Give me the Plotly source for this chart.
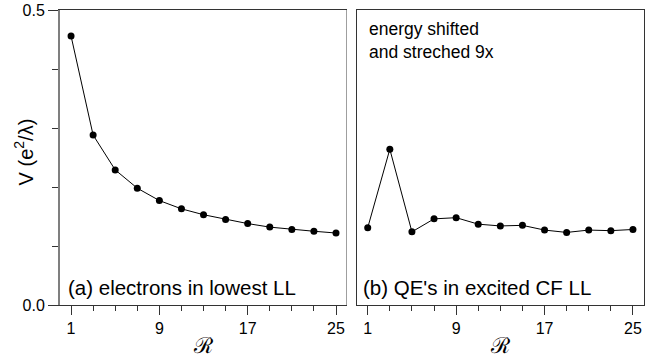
import plotly.graph_objects as go

# Pair-pseudopotential data versus relative angular momentum R
R = [1, 3, 5, 7, 9, 11, 13, 15, 17, 19, 21, 23, 25]
v_lowest_ll = [0.456, 0.288, 0.229, 0.198, 0.177, 0.163, 0.153, 0.145, 0.138,
               0.132, 0.128, 0.125, 0.122]
v_excited_cf = [0.131, 0.264, 0.124, 0.146, 0.148, 0.137, 0.134, 0.135, 0.127,
                0.123, 0.127, 0.126, 0.128]

x_ticks = [1, 9, 17, 25]
y_ticks = [0.0, 0.5]
y_ticklabels = ["0.0", "0.5"]

FONT = "Liberation Sans, Arial, sans-serif"

fig = go.Figure()

marker = dict(color="black", size=7)
line = dict(color="black", width=1)

fig.add_trace(go.Scatter(x=R, y=v_lowest_ll, mode="lines+markers",
                         marker=marker, line=line, xaxis="x", yaxis="y",
                         showlegend=False))
fig.add_trace(go.Scatter(x=R, y=v_excited_cf, mode="lines+markers",
                         marker=marker, line=line, xaxis="x2", yaxis="y2",
                         showlegend=False))

xcommon = dict(range=[0, 26], tickvals=x_ticks, ticks="outside", ticklen=9,
               tickwidth=1, tickcolor="#333", showline=True, linecolor="#333",
               linewidth=1, mirror=True, showgrid=False, zeroline=False,
               automargin=False,
               tickfont=dict(size=16, color="black", family=FONT),
               minor=dict(tick0=1, dtick=2, ticks="outside", ticklen=5,
                          tickcolor="#333", tickwidth=1),
               title=dict(text="ℛ", standoff=1,
                          font=dict(size=22, family="DejaVu Serif, serif",
                                    color="black")))

fig.update_layout(
    width=661, height=360,
    margin=dict(l=60, r=17, t=10, b=55),
    paper_bgcolor="white", plot_bgcolor="white",
    font=dict(family=FONT, color="black"),
    xaxis=dict(domain=[0, 0.4915], anchor="y", **xcommon),
    xaxis2=dict(domain=[0.508, 1], anchor="y2", **xcommon),
    yaxis=dict(domain=[0, 1], range=[0, 0.5], anchor="x", automargin=False,
               tickvals=y_ticks, ticktext=y_ticklabels, ticks="outside",
               ticklen=10, tickcolor="#333", showline=True, linecolor="#7f7f7f",
               linewidth=2, showgrid=False, zeroline=False,
               tickfont=dict(size=16, color="black", family=FONT),
               minor=dict(tick0=0, dtick=0.1, ticks="outside", ticklen=6,
                          tickcolor="#333", tickwidth=1)),
    yaxis2=dict(domain=[0, 1], range=[0, 0.5], anchor="x2", automargin=False,
                showticklabels=False, ticks="", showline=True,
                linecolor="#333", linewidth=1, mirror=True,
                showgrid=False, zeroline=False),
)

# right edge of the left panel frame
fig.add_shape(type="line", xref="x", yref="paper", x0=26, x1=26, y0=0, y1=1,
              line=dict(color="#333", width=1))

# y-axis title
fig.add_annotation(xref="paper", yref="paper", x=-0.062, y=0.52,
                   xanchor="center", yanchor="middle", showarrow=False,
                   textangle=-90, text="V (e<sup>2</sup>/λ)",
                   font=dict(size=20, color="black", family=FONT))

fig.add_annotation(xref="x", yref="paper", x=0.5, y=0.06, xanchor="left",
                   yanchor="middle", showarrow=False,
                   text="(a) electrons in lowest LL",
                   font=dict(size=20.5, color="black", family=FONT))
fig.add_annotation(xref="x2", yref="paper", x=0.4, y=0.06, xanchor="left",
                   yanchor="middle", showarrow=False,
                   text="(b) QE's in excited CF LL",
                   font=dict(size=20.5, color="black", family=FONT))
fig.add_annotation(xref="x2", yref="paper", x=0.9, y=0.975, xanchor="left",
                   yanchor="top", showarrow=False, align="left",
                   text="energy shifted<br>and streched 9x",
                   font=dict(size=17.5, color="black", family=FONT))

fig.write_html("out.html")
